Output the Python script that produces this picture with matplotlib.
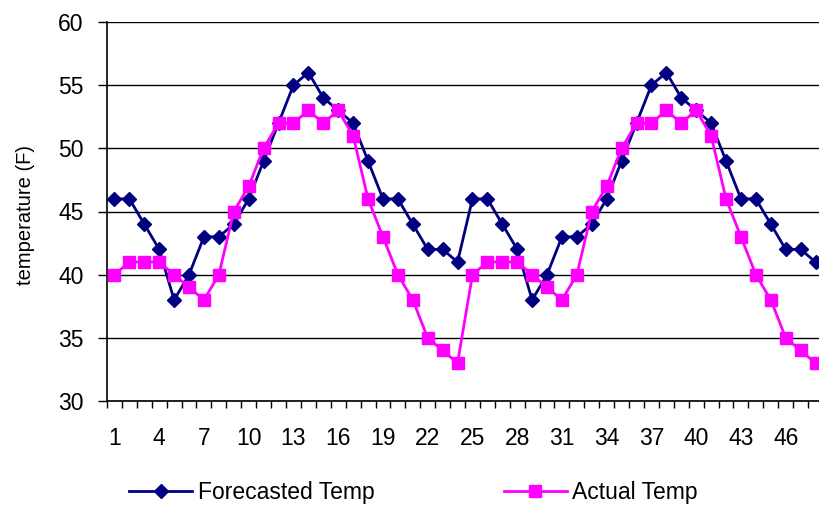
import numpy as np
import matplotlib
matplotlib.use("Agg")
import matplotlib.pyplot as plt

plt.rcParams['font.family'] = ['Liberation Sans', 'DejaVu Sans']

hours = list(range(1, 49))
forecast_temp = [46, 46, 44, 42, 38, 40, 43, 43, 44, 46, 49, 52, 55, 56, 54, 53,
                 52, 49, 46, 46, 44, 42, 42, 41, 46, 46, 44, 42, 38, 40, 43, 43,
                 44, 46, 49, 52, 55, 56, 54, 53, 52, 49, 46, 46, 44, 42, 42, 41]
actual_temp = [40, 41, 41, 41, 40, 39, 38, 40, 45, 47, 50, 52, 52, 53, 52, 53,
               51, 46, 43, 40, 38, 35, 34, 33, 40, 41, 41, 41, 40, 39, 38, 40,
               45, 47, 50, 52, 52, 53, 52, 53, 51, 46, 43, 40, 38, 35, 34, 33]
tick_labels = [str(h) for h in hours[::3]]

fig = plt.figure(figsize=(8.2, 5.08), dpi=100)
ax = fig.add_axes([107 / 820, 1 - 401 / 508, 716 / 820, 379 / 508])

ax.plot(hours, forecast_temp, color='#000080', lw=2, marker='D', ms=7.5,
        label='Forecasted Temp', clip_on=False, zorder=3)
ax.plot(hours, actual_temp, color='#FF00FF', lw=2, marker='s', ms=9,
        label='Actual Temp', clip_on=False, zorder=4)

ax.set_xlim(0.5, 48.5)
ax.set_ylim(30, 60)
ax.set_yticks(range(30, 61, 5))
ax.yaxis.grid(True, color='black', lw=1)
ax.set_axisbelow(True)

# category ticks sit between points, labels every third point
ax.set_xticks(np.arange(0.5, 49, 1))
ax.set_xticklabels([])
ax.set_xticks(hours[::3], minor=True)
ax.set_xticklabels(tick_labels, minor=True)
ax.tick_params(axis='x', which='major', length=5, width=1, direction='out')
ax.tick_params(axis='x', which='minor', length=0, pad=18.5, labelsize=16.5)
ax.tick_params(axis='y', length=6.5, width=1, direction='out', pad=10.5, labelsize=16.5)

for side in ['top', 'right']:
    ax.spines[side].set_visible(False)
ax.spines['left'].set_linewidth(1.2)
ax.spines['bottom'].set_linewidth(1.2)

ax.set_ylabel('temperature (F)', fontsize=14.5)
ax.yaxis.set_label_coords(-0.101, 0.49)

fig.legend(loc='center left', bbox_to_anchor=(118 / 820, 1 - 493 / 508), ncol=2,
           frameon=False, fontsize=16.5, handlelength=2.75, columnspacing=5.6,
           handletextpad=0.26, borderpad=0)

fig.savefig('out.png', dpi=100)
